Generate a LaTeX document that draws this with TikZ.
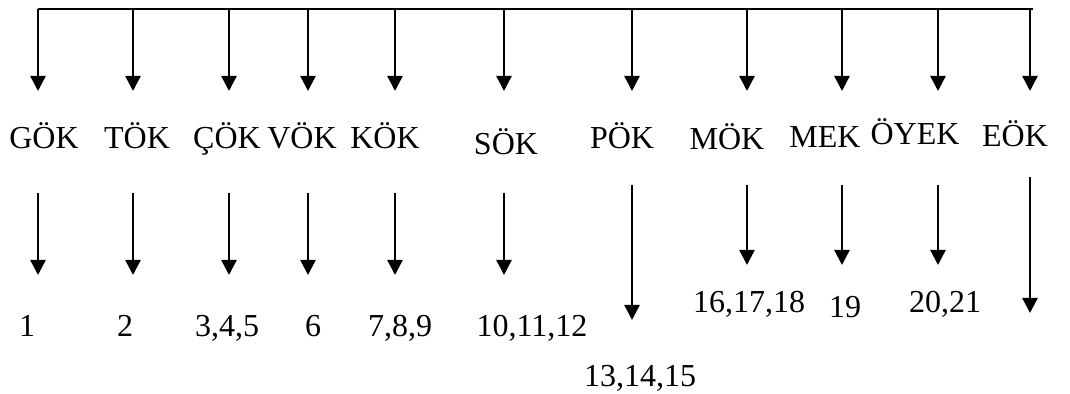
\documentclass[tikz,border=0pt]{standalone}
\usepackage{fontspec}
\setmainfont{Liberation Serif}
\usetikzlibrary{arrows.meta}
\begin{document}
\begin{tikzpicture}[x=0.5pt,y=-0.5pt,
  arr/.style={line width=1.2pt,-{Triangle[width=7.5pt,length=7.5pt]}},
  barline/.style={line width=0.85pt},
  lab/.style={anchor=base,inner sep=0pt,font=\fontsize{16}{19}\selectfont}]
\useasboundingbox (0,0) rectangle (1070,394);
% columns: name / x / lower start / lower end
\foreach \n/\x/\s/\e in {g/38/193/275, t/133/193/275, c/229/193/275, v/308/193/275,
  k/395/193/275, s/504/193/275, p/632/185/320, m/747/185/265, me/842/185/265,
  o/938/185/265, e/1030/177/313} {
  \coordinate (\n top) at (\x,9);
  \coordinate (\n hd) at (\x,91);
  \coordinate (\n st) at (\x,\s);
  \coordinate (\n en) at (\x,\e);
  \draw[arr] (\n top) -- (\n hd);
  \draw[arr] (\n st) -- (\n en);
}
\coordinate (barend) at (1033,9);
\draw[barline] (gtop) -- (barend);
% category labels
\node[lab] (gok) at (44,149) {GÖK};
\node[lab] (tok) at (137,149) {TÖK};
\node[lab] (cok) at (227,149) {ÇÖK};
\node[lab] (vok) at (302,149) {VÖK};
\node[lab] (kok) at (385,149) {KÖK};
\node[lab] (sok) at (506,155) {SÖK};
\node[lab] (pok) at (622,149) {PÖK};
\node[lab] (mok) at (727,150) {MÖK};
\node[lab] (mek) at (825,148) {MEK};
\node[lab] (oyek) at (915,145) {ÖYEK};
\node[lab] (eok) at (1015,147) {EÖK};
% numbers
\node[lab] (n1) at (27,337) {1};
\node[lab] (n2) at (125,337) {2};
\node[lab] (n3) at (227,337) {3,4,5};
\node[lab] (n6) at (313,337) {6};
\node[lab] (n7) at (400,337) {7,8,9};
\node[lab] (n10) at (532,337) {10,11,12};
\node[lab] (n13) at (640,387) {13,14,15};
\node[lab] (n16) at (749,313) {16,17,18};
\node[lab] (n19) at (845,318) {19};
\node[lab] (n20) at (945,313) {20,21};
\end{tikzpicture}
\end{document}
